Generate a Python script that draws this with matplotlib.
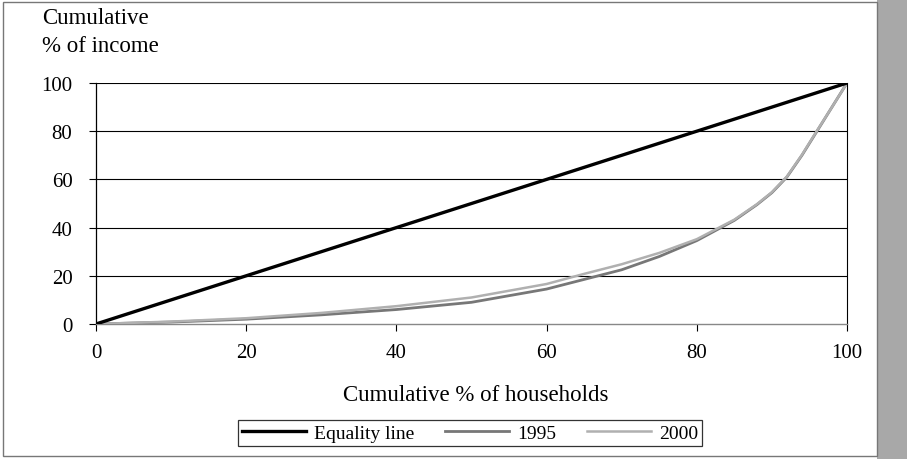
import matplotlib
matplotlib.use("Agg")
import matplotlib.pyplot as plt
from matplotlib.patches import Rectangle

plt.rcParams['font.family'] = ['Liberation Serif', 'DejaVu Serif']

# Lorenz curve data (cumulative % of households vs cumulative % of income)
households = [0, 10, 20, 30, 40, 50, 60, 65, 70, 75, 80, 85, 88, 90, 92, 94, 96, 98, 100]
equality = households
income_1995 = [0, 0.8, 2.0, 3.8, 6.0, 9.0, 14.5, 18.5, 22.5, 28.0, 34.6, 43.0, 49.5, 54.5, 61.0, 70.0, 80.0, 90.0, 100]
income_2000 = [0, 1.0, 2.4, 4.6, 7.4, 11.0, 16.6, 20.8, 24.8, 29.5, 35.2, 43.3, 49.7, 54.7, 61.2, 70.2, 80.2, 90.0, 100]

x_ticks = [0, 20, 40, 60, 80, 100]
y_ticks = [0, 20, 40, 60, 80, 100]

fig = plt.figure(figsize=(9.07, 4.60), dpi=100)
W, H = 907, 460

# outer frame and shaded side band
fig.patches.append(Rectangle((877 / W, 0), 30 / W, 1, transform=fig.transFigure,
                             facecolor='#a8a8a8', edgecolor='none', zorder=0))
fig.patches.append(Rectangle((3 / W, 3 / H), 874 / W, 454 / H, transform=fig.transFigure,
                             facecolor='white', edgecolor='#777777', linewidth=1.0, zorder=1))

ax = fig.add_axes([96 / W, (460 - 325) / H, (847 - 96) / W, (325 - 84) / H])
ax.set_zorder(2)
ax.set_xlim(0, 100)
ax.set_ylim(0, 100)

for y in y_ticks[1:]:
    ax.axhline(y, color='black', linewidth=0.8, zorder=1)

ax.plot(households, equality, color='black', linewidth=2.4, zorder=4, label='Equality line')
ax.plot(households, income_1995, color='#777777', linewidth=2.0, zorder=3, label='1995')
ax.plot(households, income_2000, color='#b0b0b0', linewidth=1.8, zorder=3, label='2000')

ax.set_xticks(x_ticks)
ax.set_yticks(y_ticks)
ax.tick_params(axis='both', direction='out', length=5, width=0.8, labelsize=15, colors='black')
ax.tick_params(axis='x', pad=9)
ax.tick_params(axis='y', pad=12)

ax.spines['top'].set_visible(False)
ax.spines['left'].set_linewidth(0.9)
ax.spines['right'].set_linewidth(0.8)
ax.spines['bottom'].set_color('#888888')
ax.spines['bottom'].set_linewidth(1.0)

fig.text(42 / W, 1 - 19 / H, 'Cumulative', fontsize=16.5, va='center', ha='left')
fig.text(42 / W, 1 - 47 / H, '% of income', fontsize=16.5, va='center', ha='left')
fig.text(476 / W, 1 - 396 / H, 'Cumulative % of households', fontsize=16.5, va='center', ha='center')

leg = fig.legend(loc='center', bbox_to_anchor=(470 / W, 1 - 434 / H), ncol=3, fontsize=14,
                 frameon=True, fancybox=False, edgecolor='black', handlelength=3.3,
                 columnspacing=1.6, borderpad=0.2, handletextpad=0.4)
leg.get_frame().set_linewidth(0.9)

fig.savefig('out.png', dpi=100)
